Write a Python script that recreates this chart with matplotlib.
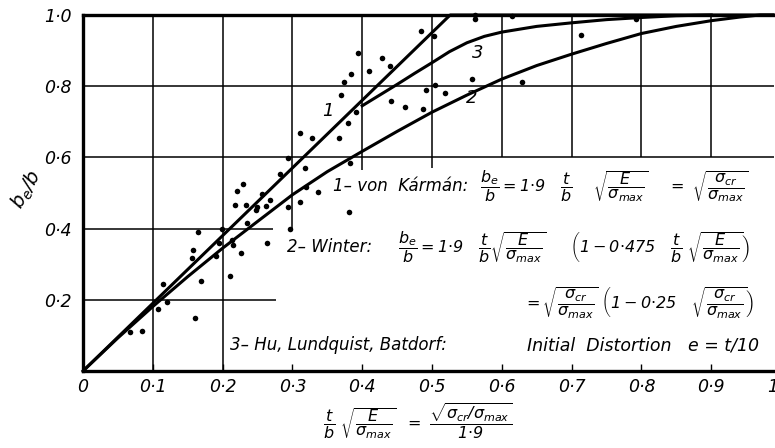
import matplotlib
matplotlib.use('Agg')
import matplotlib.pyplot as plt
from matplotlib.transforms import blended_transform_factory

plt.rcParams['font.family'] = ['DejaVu Sans']
plt.rcParams['font.style'] = 'italic'
plt.rcParams['mathtext.fontset'] = 'custom'
plt.rcParams['mathtext.rm'] = 'DejaVu Sans:italic'
plt.rcParams['mathtext.it'] = 'DejaVu Sans:italic'
plt.rcParams['mathtext.sf'] = 'DejaVu Sans:italic'
plt.rcParams['mathtext.bf'] = 'DejaVu Sans:italic:bold'

# ---------------- data ----------------
x_ticks = [0.0, 0.1, 0.2, 0.3, 0.4, 0.5, 0.6, 0.7, 0.8, 0.9]
x_tick_labels = ['0', '0·1', '0·2', '0·3', '0·4', '0·5', '0·6', '0·7', '0·8', '0·9']
y_ticks = [0.2, 0.4, 0.6, 0.8, 1.0]
y_tick_labels = ['0·2', '0·4', '0·6', '0·8', '1·0']

# curve 1 : von Karman
karman_x = [0.0, 0.526, 0.99]
karman_y = [0.0, 1.0, 1.0]

# curve 2 : Winter
winter_x = [0.0, 0.05, 0.10, 0.15, 0.20, 0.25, 0.30, 0.35, 0.40, 0.45, 0.50,
            0.55, 0.60, 0.65, 0.70, 0.75, 0.80, 0.85, 0.90, 0.94, 0.97, 0.99]
winter_y = [0.0, 0.093, 0.181, 0.265, 0.345, 0.420, 0.495, 0.560, 0.617, 0.673, 0.727,
            0.775, 0.820, 0.858, 0.890, 0.920, 0.948, 0.968, 0.984, 0.994, 1.0, 1.0]

# curve 3 : Hu, Lundquist, Batdorf
hu_x = [0.40, 0.425, 0.45, 0.475, 0.50, 0.525, 0.55, 0.575, 0.60, 0.65, 0.70,
        0.75, 0.80, 0.85, 0.90]
hu_y = [0.745, 0.775, 0.805, 0.836, 0.866, 0.897, 0.922, 0.940, 0.952, 0.968, 0.978,
        0.987, 0.993, 0.998, 1.0]

# test points
test_x = [0.067, 0.084, 0.108, 0.120, 0.114, 0.160, 0.169, 0.211, 0.156, 0.158,
          0.190, 0.195, 0.213, 0.215, 0.226, 0.263, 0.165, 0.199, 0.2345, 0.218,
          0.2335, 0.2497, 0.262, 0.248, 0.220, 0.229, 0.256, 0.268, 0.282, 0.294,
          0.294, 0.297, 0.311, 0.320, 0.337, 0.318, 0.3825, 0.381, 0.311, 0.3276,
          0.367, 0.380, 0.3907, 0.369, 0.374, 0.3835, 0.394, 0.410, 0.429, 0.440,
          0.441, 0.461, 0.487, 0.491, 0.505, 0.518, 0.484, 0.503, 0.558, 0.6285,
          0.561, 0.561, 0.615, 0.713, 0.792]
test_y = [0.110, 0.113, 0.173, 0.195, 0.244, 0.150, 0.252, 0.267, 0.317, 0.340,
          0.323, 0.360, 0.368, 0.354, 0.332, 0.359, 0.391, 0.400, 0.417, 0.466,
          0.466, 0.462, 0.463, 0.452, 0.506, 0.525, 0.497, 0.480, 0.553, 0.599,
          0.4616, 0.400, 0.476, 0.518, 0.504, 0.569, 0.583, 0.4475, 0.668, 0.654,
          0.655, 0.696, 0.728, 0.775, 0.813, 0.834, 0.893, 0.8435, 0.880, 0.857,
          0.758, 0.741, 0.737, 0.788, 0.804, 0.781, 0.955, 0.941, 0.820, 0.813,
          1.0, 0.988, 0.997, 0.944, 0.989]

# grid segments (position, start, end)
vgrid_x = [0.1, 0.2, 0.3, 0.4, 0.5, 0.6, 0.7, 0.8, 0.9]
vgrid_lo = [0.0, 0.0, 0.40, 0.565, 0.57, 0.6, 0.6, 0.6, 0.6]
hgrid_y = [0.2, 0.4, 0.6, 0.8]
hgrid_hi = [0.276, 0.272, 0.99, 0.99]

# ---------------- figure ----------------
fig = plt.figure(figsize=(7.75, 4.48), dpi=100)
ax = fig.add_axes([83 / 775, 77 / 448, 692 / 775, 356 / 448])
ax.set_xlim(0, 692 / 698)
ax.set_ylim(0, 1.0)

ax.vlines(vgrid_x, vgrid_lo, [1.0] * len(vgrid_x), colors='black', lw=1.1, zorder=1)
ax.hlines(hgrid_y, [0.0] * len(hgrid_y), hgrid_hi, colors='black', lw=1.1, zorder=1)

ax.plot(karman_x, karman_y, color='black', lw=2.2, solid_capstyle='butt', zorder=3, clip_on=False)
ax.plot(winter_x, winter_y, color='black', lw=2.2, zorder=3, clip_on=False)
ax.plot(hu_x, hu_y, color='black', lw=2.2, zorder=3, clip_on=False)
ax.scatter(test_x, test_y, s=16, color='black', zorder=4, clip_on=False, linewidths=0)

for side in ['left', 'bottom', 'top']:
    ax.spines[side].set_linewidth(2.4)
ax.spines['right'].set_visible(False)

ax.set_xticks(x_ticks, x_tick_labels)
ax.set_yticks(y_ticks, y_tick_labels)
ax.tick_params(axis='x', direction='in', length=5, width=1, pad=5, labelsize=12.5)
ax.tick_params(axis='y', length=0, pad=8, labelsize=12.5)
for lab in ax.get_xticklabels() + ax.get_yticklabels():
    lab.set_fontstyle('italic')

# label at 1.0, cut by the right edge as in the original
ax.text(1.0, -0.02, '1·0', transform=blended_transform_factory(ax.transData, ax.transAxes),
        ha='center', va='top', fontsize=12.5, style='italic', clip_on=False)

# curve labels
ax.text(0.351, 0.73, '1', fontsize=13, ha='center', va='center')
ax.text(0.566, 0.893, '3', fontsize=13, ha='center', va='center')
ax.text(0.557, 0.767, '2', fontsize=13, ha='center', va='center')

# formulas
fs = 12
mfs = 11.5
ax.text(0.358, 0.52, '1– von  Kármán:', fontsize=fs, ha='left', va='center')
ax.text(0.569, 0.52,
        r'$\dfrac{b_e}{b} = 1{\cdot}9\quad\dfrac{t}{b}\quad\ \sqrt{\dfrac{E}{\sigma_{max}}}\quad\ =\ \sqrt{\dfrac{\sigma_{cr}}{\sigma_{max}}}$',
        fontsize=mfs, ha='left', va='center')
ax.text(0.292, 0.348, '2– Winter:', fontsize=fs, ha='left', va='center')
ax.text(0.451, 0.348,
        r'$\dfrac{b_e}{b} = 1{\cdot}9\quad\dfrac{t}{b}\sqrt{\dfrac{E}{\sigma_{max}}}\quad\ \ \left(1 - 0{\cdot}475\quad\dfrac{t}{b}\ \sqrt{\dfrac{E}{\sigma_{max}}}\right)$',
        fontsize=mfs, ha='left', va='center')
ax.text(0.630, 0.191,
        r'$=\sqrt{\dfrac{\sigma_{cr}}{\sigma_{max}}}\ \left(1 - 0{\cdot}25\quad\sqrt{\dfrac{\sigma_{cr}}{\sigma_{max}}}\right)$',
        fontsize=mfs, ha='left', va='center')
ax.text(0.21, 0.073, '3– Hu, Lundquist, Batdorf:', fontsize=fs, ha='left', va='center')
ax.text(0.636, 0.073, 'Initial  Distortion   e = t/10', fontsize=12.5, ha='left', va='center')

# axis titles
fig.text(418 / 775, 1 - 421 / 448,
         r'$\dfrac{t}{b}\ \sqrt{\dfrac{E}{\sigma_{max}}}\ \ =\ \dfrac{\sqrt{\sigma_{cr}/\sigma_{max}}}{1{\cdot}9}$',
         fontsize=11.5, ha='center', va='center')
fig.text(27 / 775, 1 - 190 / 448, r'$b_e/b$', fontsize=14, rotation=60,
         ha='center', va='center')

fig.savefig('out.png', dpi=100, facecolor='white')
